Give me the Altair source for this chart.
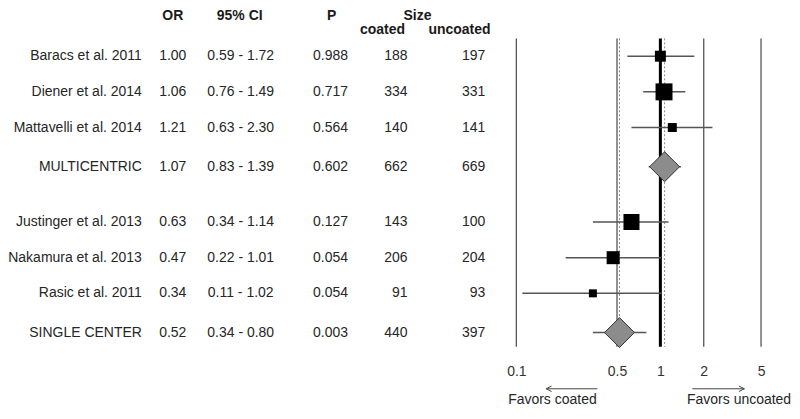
import altair as alt
import pandas as pd

# ---------------- data ----------------
studies = ["Baracs et al. 2011", "Diener et al. 2014", "Mattavelli et al. 2014", "MULTICENTRIC",
           "Justinger et al. 2013", "Nakamura et al. 2013", "Rasic et al. 2011", "SINGLE CENTER"]
odds_ratio = [1.00, 1.06, 1.21, 1.07, 0.63, 0.47, 0.34, 0.52]
ci_low = [0.59, 0.76, 0.63, 0.83, 0.34, 0.22, 0.11, 0.34]
ci_high = [1.72, 1.49, 2.30, 1.39, 1.14, 1.01, 1.02, 0.80]
p_values = [0.988, 0.717, 0.564, 0.602, 0.127, 0.054, 0.054, 0.003]
n_coated = [188, 334, 140, 662, 143, 206, 91, 440]
n_uncoated = [197, 331, 141, 669, 100, 204, 93, 397]
pooled = [False, False, False, True, False, False, False, True]
weight_pct = [24.6, 58.9, 16.5, 0, 52.4, 34.6, 13.1, 0]   # weight within subgroup (%)
tick_values = [0.1, 0.5, 1, 2, 5]
pooled_lines = [1.07, 0.52]

# ---------------- layout ----------------
row_y = [1, 2, 3, 4.1, 5.65, 6.65, 7.65, 8.75]      # row slots (layout)
Y_TOP, Y_BOT, GRID_TOP = -0.345, 9.15, 0.5
H = 339
LEFT_W, RIGHT_W = 509, 245
FONT = "Liberation Sans"
FS = 14
TXT = "#262626"

df = pd.DataFrame({
    "study": studies, "or": odds_ratio, "lo": ci_low, "hi": ci_high, "p": p_values,
    "nc": n_coated, "nu": n_uncoated, "pooled": pooled, "w": weight_pct, "pos": row_y,
})

yscale = alt.Scale(domain=[Y_TOP, Y_BOT], reverse=True, nice=False, zero=False, padding=0)
xscale = alt.Scale(type="log", domain=[0.1, 5], nice=False, padding=0)
xaxis = alt.Axis(values=tick_values, format="~g", labelFontSize=FS, labelColor="#333333",
                 labelFont=FONT, domain=False, ticks=False, tickSize=0, grid=False,
                 labelPadding=18, title=None, labelFlush=False, labelOverlap=False)

Ypos = alt.Y("pos:Q", scale=yscale, axis=None)

# ---------------- left: table ----------------
base = alt.Chart(df)

def col(field, xpx, align, fmt=None):
    t = alt.Text(field, format=fmt) if fmt else alt.Text(field)
    return base.mark_text(align=align, baseline="middle", font=FONT, fontSize=FS, color=TXT).encode(
        x=alt.value(xpx), y=Ypos, text=t)

ci_col = base.transform_calculate(
    ci="format(datum.lo, '.2f') + ' - ' + format(datum.hi, '.2f')"
).mark_text(align="center", baseline="middle", font=FONT, fontSize=FS, color=TXT).encode(
    x=alt.value(233), y=Ypos, text="ci:N")

headers = [("OR", 165, 1), ("95% CI", 232, 1), ("P", 324, 1), ("Size", 410, 1),
           ("coated", 375, 15), ("uncoated", 452, 15)]
header_layers = [
    alt.Chart(pd.DataFrame({"a": [0]})).mark_text(
        align="center", baseline="top", font=FONT, fontSize=FS, fontWeight="bold", color="#1a1a1a"
    ).encode(x=alt.value(hx), y=alt.value(hy), text=alt.value(label))
    for label, hx, hy in headers
]

left = alt.layer(
    col("study:N", 134, "right"),
    col("or:Q", 165, "center", ".2f"),
    ci_col,
    col("p:Q", 323, "center", ".3f"),
    col("nc:Q", 400, "right"),
    col("nu:Q", 478, "right"),
    *header_layers,
).properties(width=LEFT_W, height=H)

# ---------------- right: forest plot ----------------
def X(field):
    return alt.X(field, scale=xscale, axis=xaxis)

def full_height():
    return dict(y=alt.YDatum(GRID_TOP, scale=yscale, axis=None), y2=alt.Y2Datum(Y_BOT))

grid_df = pd.DataFrame({"v": [t for t in tick_values if t != 1]})
grid = alt.Chart(grid_df).mark_rule(stroke="#555555", strokeWidth=1.3).encode(
    x=X("v:Q"), **full_height())
one = alt.Chart(pd.DataFrame({"v": [1]})).mark_rule(stroke="black", strokeWidth=3).encode(
    x=X("v:Q"), **full_height())
pool_df = pd.DataFrame({"v": pooled_lines})
pool = alt.Chart(pool_df).mark_rule(stroke="#8a8a8a", strokeWidth=1, strokeDash=[2, 2]).encode(
    x=X("v:Q"), **full_height())

ci = base.mark_rule(stroke="#555555", strokeWidth=1.5).encode(x=X("lo:Q"), x2="hi:Q", y=Ypos)
squares = base.transform_filter("!datum.pooled").mark_point(
    shape="square", filled=True, color="black", opacity=1).encode(
    x=X("or:Q"), y=Ypos,
    size=alt.Size("w:Q", scale=alt.Scale(domain=[0, 100], range=[0, 490]), legend=None))
diamonds = base.transform_filter("datum.pooled").mark_point(
    shape="diamond", filled=True, fill="#8c8c8c", stroke="#333333", strokeWidth=1,
    size=900, opacity=1).encode(x=X("or:Q"), y=Ypos)

ARROW_Y, FAV_Y = 381, 392
ann = alt.Chart(pd.DataFrame({"a": [0]}))
arrow_l = ann.mark_rule(stroke="#444444", strokeWidth=1).encode(
    x=alt.XDatum(0.161, scale=xscale, axis=xaxis), x2=alt.X2Datum(0.365), y=alt.value(ARROW_Y))
arrow_r = ann.mark_rule(stroke="#444444", strokeWidth=1).encode(
    x=alt.XDatum(1.667, scale=xscale, axis=xaxis), x2=alt.X2Datum(3.83), y=alt.value(ARROW_Y))
head_l = ann.mark_point(shape="M2,-1L0,0L2,1", filled=False, stroke="#444444", strokeWidth=1,
                        size=30, opacity=1).encode(
    x=alt.XDatum(0.161, scale=xscale, axis=xaxis), y=alt.value(ARROW_Y))
head_r = ann.mark_point(shape="M-2,-1L0,0L-2,1", filled=False, stroke="#444444", strokeWidth=1,
                        size=30, opacity=1).encode(
    x=alt.XDatum(3.83, scale=xscale, axis=xaxis), y=alt.value(ARROW_Y))
fav_l = ann.mark_text(align="center", baseline="middle", font=FONT, fontSize=FS, color=TXT).encode(
    x=alt.XDatum(0.178, scale=xscale, axis=xaxis), y=alt.value(FAV_Y), text=alt.value("Favors coated"))
fav_r = ann.mark_text(align="center", baseline="middle", font=FONT, fontSize=FS, color=TXT).encode(
    x=alt.XDatum(3.52, scale=xscale, axis=xaxis), y=alt.value(FAV_Y), text=alt.value("Favors uncoated"))

right = alt.layer(grid, pool, one, ci, squares, diamonds,
                  arrow_l, arrow_r, head_l, head_r, fav_l, fav_r).properties(width=RIGHT_W, height=H)

chart = alt.hconcat(left, right, spacing=0, bounds="flush").properties(
    padding=0, background="white"
).configure_view(stroke=None)

chart.save("out.html", embed_options={"renderer": "svg", "actions": False})
